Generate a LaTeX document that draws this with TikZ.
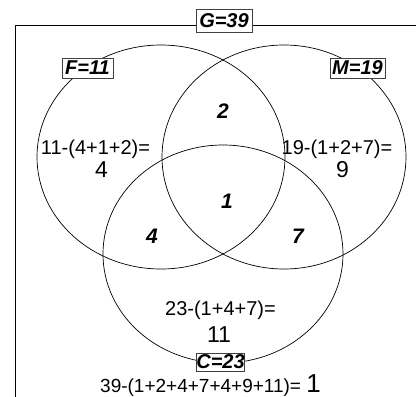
\documentclass[tikz,border=0pt]{standalone}
\usepackage{fontspec}
\setmainfont{Liberation Sans}
\begin{document}
\begin{tikzpicture}[x=1pt,y=-1pt,
  calc/.style={font=\fontsize{20}{22}\selectfont, inner sep=0pt, anchor=base},
  ans/.style={font=\fontsize{23}{25}\selectfont, inner sep=0pt, anchor=base},
  reg/.style={font=\fontsize{21}{23}\selectfont\bfseries\itshape, inner sep=0pt, anchor=base},
  setlbl/.style={draw=black!75, fill=white, line width=0.8pt, font=\fontsize{20}{22}\selectfont\bfseries\itshape, inner sep=0pt},
  venn/.style={draw=black, line width=0.7pt}]
\useasboundingbox (0,0) rectangle (416,397);
% frame
\coordinate (fb) at (15,397);
\coordinate (ftl) at (15,25);
\coordinate (fr) at (416,25);
\draw[line width=0.8pt] (fb) -- (ftl) -- (fr);
% sets
\draw[venn] (161,157) ellipse [x radius=124, y radius=112];
\draw[venn] (284,157) ellipse [x radius=122, y radius=112];
\draw[venn] (223,254) ellipse [x radius=120, y radius=109];
% set labels
\node[setlbl, minimum width=56pt, minimum height=23pt] (G) at (224,20.5) {G=39};
\node[setlbl, minimum width=51pt, minimum height=20pt] (F) at (87.5,68) {F=11};
\node[setlbl, minimum width=55pt, minimum height=20pt] (M) at (357.5,68) {M=19};
\node[setlbl, minimum width=47pt, minimum height=18pt] (C) at (220.5,362) {C=23};
% region values
\node[reg] (r2) at (223,118) {2};
\node[reg] (r1) at (227,208) {1};
\node[reg] (r4) at (152,243) {4};
\node[reg] (r7) at (298,243) {7};
% calculations
\node[calc] (fcalc) at (95.5,154) {11-(4+1+2)=};
\node[ans] (fans) at (101.5,177) {4};
\node[calc] (mcalc) at (337,154) {19-(1+2+7)=};
\node[ans] (mans) at (342.5,177) {9};
\node[calc] (ccalc) at (220.5,315) {23-(1+4+7)=};
\node[ans] (cans) at (219,342) {11};
\node[calc, anchor=base west, font=\fontsize{19}{21}\selectfont] (gcalc) at (100,392) {39-(1+2+4+7+4+9+11)= {\fontsize{26}{28}\selectfont 1}};
\end{tikzpicture}
\end{document}
